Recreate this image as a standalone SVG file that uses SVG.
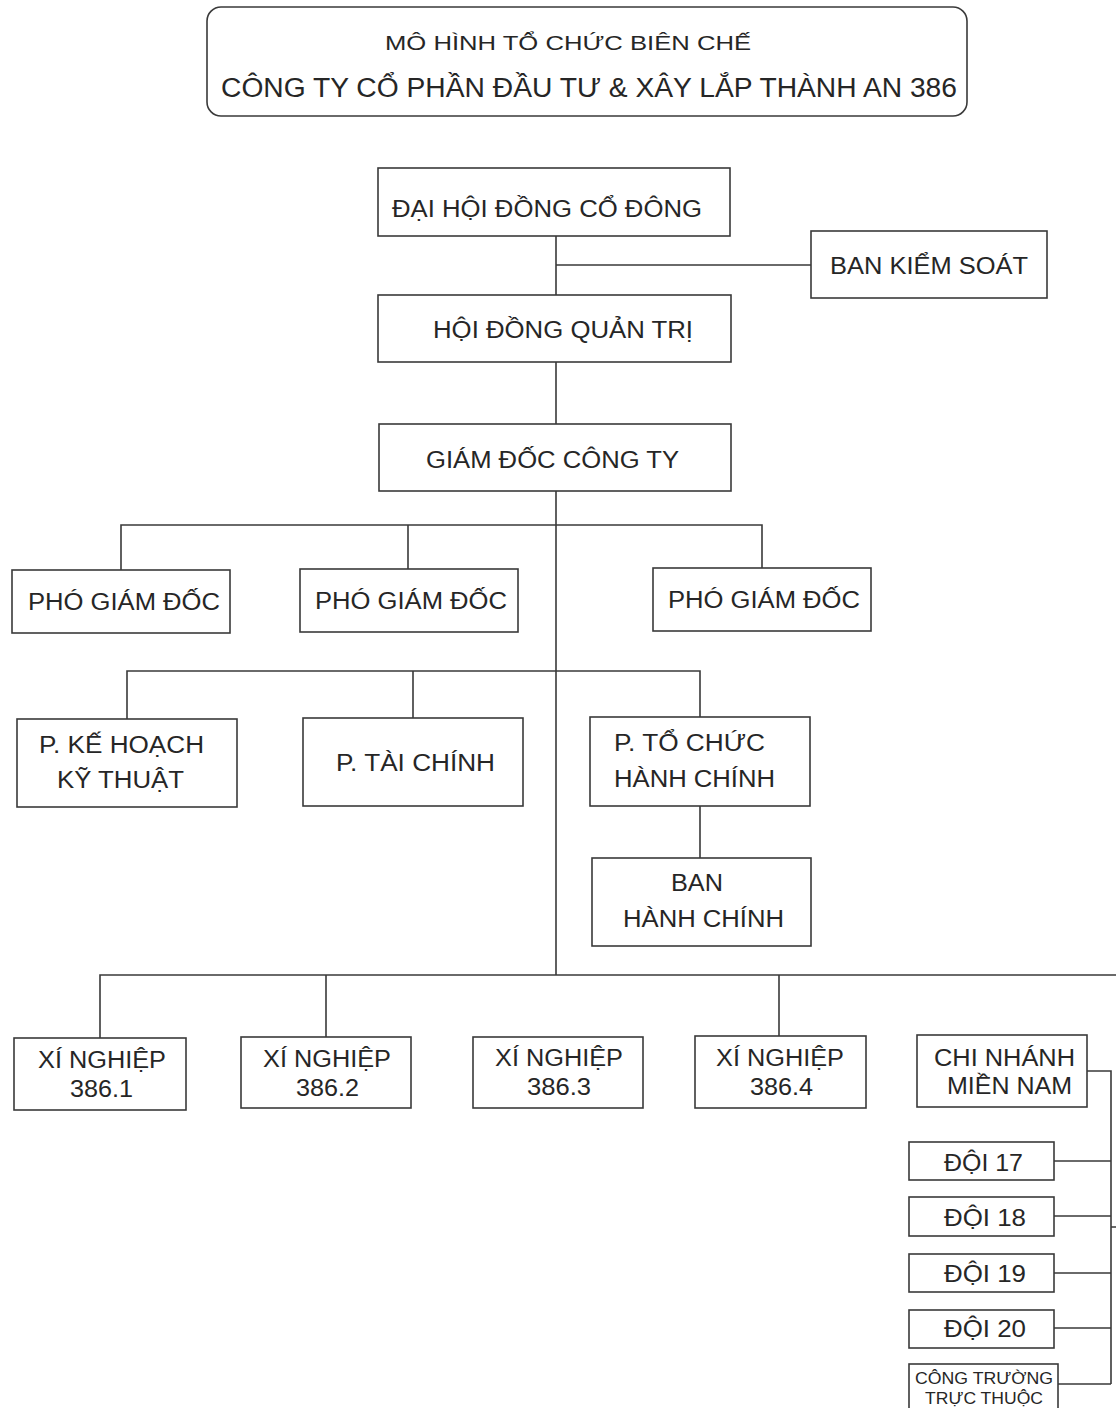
<svg xmlns="http://www.w3.org/2000/svg" width="1116" height="1408" viewBox="0 0 1116 1408">
<style>
.bg{fill:#ffffff}
.box{fill:#ffffff;stroke:#3a3a3a;stroke-width:1.6}
.ln{fill:none;stroke:#3a3a3a;stroke-width:1.6}
text{font-family:"Liberation Sans",Arial,sans-serif;fill:#262626;font-size:23px}
.t1{font-size:21px}
.t2{font-size:27px}
.sm{font-size:16px}
</style>
<rect class="bg" x="0" y="0" width="1116" height="1408"/>
<g id="title">
<rect class="box" x="207" y="7" width="760" height="109" rx="14" ry="14"/>
<text class="t1" x="385" y="50" textLength="366" lengthAdjust="spacingAndGlyphs">MÔ HÌNH TỔ CHỨC BIÊN CHẾ</text>
<text class="t2" x="221" y="97" textLength="736" lengthAdjust="spacingAndGlyphs">CÔNG TY CỔ PHẦN ĐẦU TƯ &amp; XÂY LẮP THÀNH AN 386</text>
</g>
<g id="connectors">
<path class="ln" d="M556 236V295M556 265H811M556 362V424M556 491V975"/>
<path class="ln" d="M121 570V525H762V568M408 525V569"/>
<path class="ln" d="M127 719V671H700V717M413 671V718M700 806V858"/>
<path class="ln" d="M100 1038V975H1116M326 975V1037M779 975V1036"/>
<path class="ln" d="M1087 1071H1111V1384M1054 1161H1111M1054 1216H1111M1054 1273H1111M1054 1328H1111M1058 1384H1111M1111 1227H1116"/>
</g>
<g id="n_daihoi"><rect class="box" x="378" y="168" width="352" height="68"/><text x="392" y="217" textLength="310" lengthAdjust="spacingAndGlyphs">ĐẠI HỘI ĐỒNG CỔ ĐÔNG</text></g>
<g id="n_bankiemsoat"><rect class="box" x="811" y="231" width="236" height="67"/><text x="830" y="274" textLength="198" lengthAdjust="spacingAndGlyphs">BAN KIỂM SOÁT</text></g>
<g id="n_hdqt"><rect class="box" x="378" y="295" width="353" height="67"/><text x="433" y="338" textLength="260" lengthAdjust="spacingAndGlyphs">HỘI ĐỒNG QUẢN TRỊ</text></g>
<g id="n_giamdoc"><rect class="box" x="379" y="424" width="352" height="67"/><text x="426" y="468" textLength="253" lengthAdjust="spacingAndGlyphs">GIÁM ĐỐC CÔNG TY</text></g>
<g id="n_pgd1"><rect class="box" x="12" y="570" width="218" height="63"/><text x="28" y="610" textLength="192" lengthAdjust="spacingAndGlyphs">PHÓ GIÁM ĐỐC</text></g>
<g id="n_pgd2"><rect class="box" x="300" y="569" width="218" height="63"/><text x="315" y="609" textLength="192" lengthAdjust="spacingAndGlyphs">PHÓ GIÁM ĐỐC</text></g>
<g id="n_pgd3"><rect class="box" x="653" y="568" width="218" height="63"/><text x="668" y="608" textLength="192" lengthAdjust="spacingAndGlyphs">PHÓ GIÁM ĐỐC</text></g>
<g id="n_kehoach"><rect class="box" x="17" y="719" width="220" height="88"/><text x="39" y="753" textLength="165" lengthAdjust="spacingAndGlyphs">P. KẾ HOẠCH</text><text x="57" y="788" textLength="127" lengthAdjust="spacingAndGlyphs">KỸ THUẬT</text></g>
<g id="n_taichinh"><rect class="box" x="303" y="718" width="220" height="88"/><text x="336" y="771" textLength="159" lengthAdjust="spacingAndGlyphs">P. TÀI CHÍNH</text></g>
<g id="n_tochuc"><rect class="box" x="590" y="717" width="220" height="89"/><text x="614" y="751" textLength="151" lengthAdjust="spacingAndGlyphs">P. TỔ CHỨC</text><text x="614" y="787" textLength="161" lengthAdjust="spacingAndGlyphs">HÀNH CHÍNH</text></g>
<g id="n_banhanhchinh"><rect class="box" x="592" y="858" width="219" height="88"/><text x="671" y="891" textLength="52" lengthAdjust="spacingAndGlyphs">BAN</text><text x="623" y="927" textLength="161" lengthAdjust="spacingAndGlyphs">HÀNH CHÍNH</text></g>
<g id="n_xn1"><rect class="box" x="14" y="1038" width="172" height="72"/><text x="38" y="1068" textLength="128" lengthAdjust="spacingAndGlyphs">XÍ NGHIỆP</text><text x="70" y="1097" textLength="63" lengthAdjust="spacingAndGlyphs">386.1</text></g>
<g id="n_xn2"><rect class="box" x="241" y="1037" width="170" height="71"/><text x="263" y="1067" textLength="128" lengthAdjust="spacingAndGlyphs">XÍ NGHIỆP</text><text x="296" y="1096" textLength="63" lengthAdjust="spacingAndGlyphs">386.2</text></g>
<g id="n_xn3"><rect class="box" x="473" y="1037" width="170" height="71"/><text x="495" y="1066" textLength="128" lengthAdjust="spacingAndGlyphs">XÍ NGHIỆP</text><text x="527" y="1095" textLength="64" lengthAdjust="spacingAndGlyphs">386.3</text></g>
<g id="n_xn4"><rect class="box" x="695" y="1036" width="171" height="72"/><text x="716" y="1066" textLength="128" lengthAdjust="spacingAndGlyphs">XÍ NGHIỆP</text><text x="750" y="1095" textLength="63" lengthAdjust="spacingAndGlyphs">386.4</text></g>
<g id="n_chinhanh"><rect class="box" x="917" y="1035" width="170" height="72"/><text x="934" y="1066" textLength="141" lengthAdjust="spacingAndGlyphs">CHI NHÁNH</text><text x="947" y="1094" textLength="125" lengthAdjust="spacingAndGlyphs">MIỀN NAM</text></g>
<g id="n_doi17"><rect class="box" x="909" y="1142" width="145" height="38"/><text x="944" y="1171" textLength="79" lengthAdjust="spacingAndGlyphs">ĐỘI 17</text></g>
<g id="n_doi18"><rect class="box" x="909" y="1197" width="145" height="39"/><text x="944" y="1226" textLength="82" lengthAdjust="spacingAndGlyphs">ĐỘI 18</text></g>
<g id="n_doi19"><rect class="box" x="909" y="1254" width="145" height="38"/><text x="944" y="1282" textLength="82" lengthAdjust="spacingAndGlyphs">ĐỘI 19</text></g>
<g id="n_doi20"><rect class="box" x="909" y="1310" width="145" height="38"/><text x="944" y="1337" textLength="82" lengthAdjust="spacingAndGlyphs">ĐỘI 20</text></g>
<g id="n_congtruong"><rect class="box" x="909" y="1364" width="149" height="50"/><text class="sm" x="915" y="1384" textLength="138" lengthAdjust="spacingAndGlyphs">CÔNG TRƯỜNG</text><text class="sm" x="925" y="1404" textLength="118" lengthAdjust="spacingAndGlyphs">TRỰC THUỘC</text></g>
</svg>
